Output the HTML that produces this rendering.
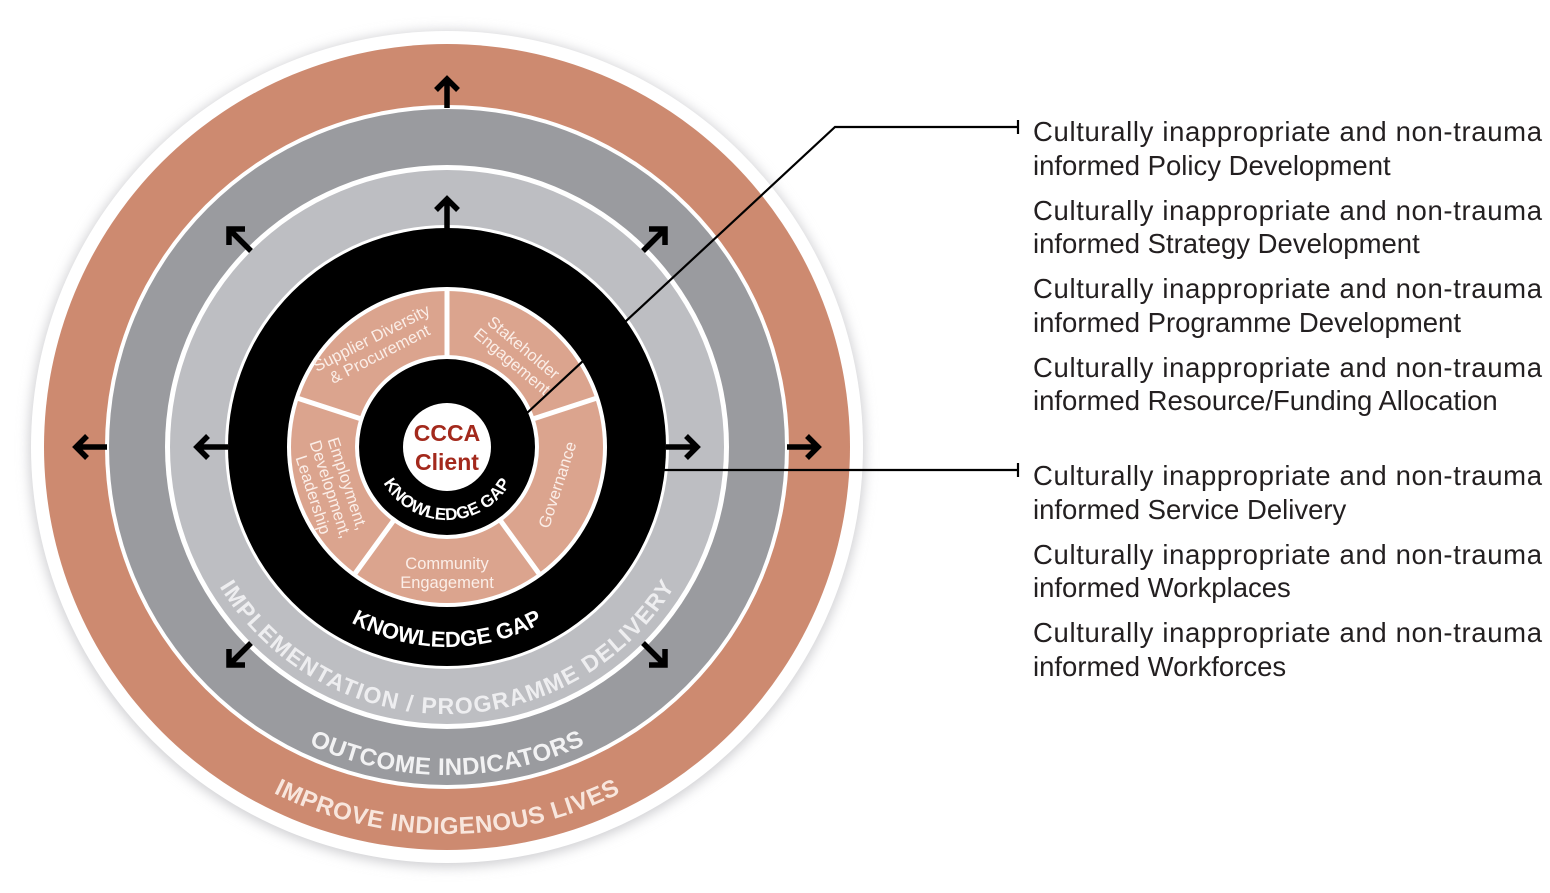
<!DOCTYPE html>
<html><head><meta charset="utf-8"><style>
html,body{margin:0;padding:0;background:#fff;width:1550px;height:893px;overflow:hidden}
svg{display:block}
.r{font-family:"Liberation Sans",sans-serif;font-size:27.5px;fill:#231f20}
.seg{font-family:"Liberation Sans",sans-serif;font-size:16.5px;fill:#fbeee8}
.ring{font-family:"Liberation Sans",sans-serif;font-weight:bold}
</style></head><body>
<svg width="1550" height="893" viewBox="0 0 1550 893" xmlns="http://www.w3.org/2000/svg">
<defs>
<filter id="sh" x="-10%" y="-10%" width="120%" height="120%"><feGaussianBlur stdDeviation="6"/></filter>
<path id="pKG" d="M247,447 A200,200 0 0 0 647,447"/>
<path id="pKG2" d="M374,447 A73,73 0 0 0 520,447"/>
<path id="pIMP" d="M180,447 A267,267 0 0 0 714,447"/>
<path id="pOUT" d="M119,447 A328,328 0 0 0 775,447"/>
<path id="pIMPR" d="M60,447 A387,387 0 0 0 834,447"/>
</defs>
<circle cx="447" cy="449" r="418" fill="#cfcfd2" filter="url(#sh)"/>
<circle cx="447" cy="447" r="416" fill="#fff"/>
<circle cx="447" cy="447" r="403" fill="#cd8a70"/>
<circle cx="447" cy="447" r="342" fill="#fff"/>
<circle cx="447" cy="447" r="338" fill="#9a9b9f"/>
<circle cx="447" cy="447" r="282" fill="#fff"/>
<circle cx="447" cy="447" r="277" fill="#bdbec2"/>
<circle cx="447" cy="447" r="222" fill="#fff"/>
<circle cx="447" cy="447" r="219" fill="#000"/>
<circle cx="447" cy="447" r="160" fill="#fff"/>
<circle cx="447" cy="447" r="156" fill="#dba48e"/>
<g stroke="#fff" stroke-width="5">
<line x1="447" y1="447" x2="447" y2="289"/>
<line x1="447" y1="447" x2="597" y2="398"/>
<line x1="447" y1="447" x2="540" y2="575"/>
<line x1="447" y1="447" x2="354" y2="575"/>
<line x1="447" y1="447" x2="297" y2="398"/>
</g>
<circle cx="447" cy="447" r="92" fill="#fff"/>
<circle cx="447" cy="447" r="88" fill="#000"/>
<circle cx="447" cy="447" r="44" fill="#fff"/>
<text x="447" y="441" text-anchor="middle" font-family="Liberation Sans,sans-serif" font-weight="bold" font-size="23" fill="#a3291c">CCCA</text>
<text x="447" y="470" text-anchor="middle" font-family="Liberation Sans,sans-serif" font-weight="bold" font-size="23" fill="#a3291c">Client</text>
<g class="seg" text-anchor="middle">
<text transform="translate(374,343) rotate(-27)"><tspan x="0" y="0">Supplier Diversity</tspan><tspan x="0" y="18">&amp; Procurement</tspan></text>
<text transform="translate(520,352) rotate(40)"><tspan x="0" y="0">Stakeholder</tspan><tspan x="0" y="18">Engagement</tspan></text>
<text transform="translate(558,485) rotate(-72)"><tspan x="0" y="5">Governance</tspan></text>
<text><tspan x="447" y="569">Community</tspan><tspan x="447" y="588">Engagement</tspan></text>
<text transform="translate(328,490) rotate(72)"><tspan x="0" y="-15">Employment,</tspan><tspan x="0" y="3">Development,</tspan><tspan x="0" y="21">Leadership</tspan></text>
</g>
<text class="ring" font-size="22" fill="#fff"><textPath href="#pKG" startOffset="50%" text-anchor="middle" textLength="200" lengthAdjust="spacing">KNOWLEDGE GAP</textPath></text>
<text class="ring" font-size="17" fill="#fff"><textPath href="#pKG2" startOffset="50%" text-anchor="middle">KNOWLEDGE GAP</textPath></text>
<text class="ring" font-size="23" fill="#eeeef0"><textPath href="#pIMP" startOffset="50%" text-anchor="middle" textLength="545" lengthAdjust="spacing">IMPLEMENTATION / PROGRAMME DELIVERY</textPath></text>
<text class="ring" font-size="24" fill="#f2f2f3"><textPath href="#pOUT" startOffset="50%" text-anchor="middle" textLength="285" lengthAdjust="spacing">OUTCOME INDICATORS</textPath></text>
<text class="ring" font-size="24" fill="#f8e6dd"><textPath href="#pIMPR" startOffset="50%" text-anchor="middle" textLength="360" lengthAdjust="spacing">IMPROVE INDIGENOUS LIVES</textPath></text>
<g stroke="#000" stroke-width="5.5" fill="none" stroke-linecap="butt">
<path d="M447,108 V79 M436,90 L447,79 L458,90"/>
<path d="M107,447 H76 M87,436 L76,447 L87,458"/>
<path d="M787,447 H818 M807,436 L818,447 L807,458"/>
<path d="M447,229 V199 M436,210 L447,199 L458,210"/>
<path d="M228,447 H197 M208,436 L197,447 L208,458"/>
<path d="M666,447 H697 M686,436 L697,447 L686,458"/>
<path d="M251,251 L229,229 M229,245 V229 H245"/>
<path d="M643,251 L665,229 M649,229 H665 V245"/>
<path d="M251,643 L229,665 M229,649 V665 H245"/>
<path d="M643,643 L665,665 M665,649 V665 H649"/>
</g>
<g stroke="#000" stroke-width="2.2" fill="none">
<path d="M527,413 L835,127 H1018"/>
<path d="M1018,120 V134"/>
<path d="M663,470 H1018"/>
<path d="M1018,463 V477"/>
</g>
<g class="r">
<text x="1033" y="141" textLength="509">Culturally inappropriate and non-trauma</text>
<text x="1033" y="175">informed Policy Development</text>
<text x="1033" y="220" textLength="509">Culturally inappropriate and non-trauma</text>
<text x="1033" y="253">informed Strategy Development</text>
<text x="1033" y="298" textLength="509">Culturally inappropriate and non-trauma</text>
<text x="1033" y="332">informed Programme Development</text>
<text x="1033" y="377" textLength="509">Culturally inappropriate and non-trauma</text>
<text x="1033" y="410">informed Resource/Funding Allocation</text>
<text x="1033" y="485" textLength="509">Culturally inappropriate and non-trauma</text>
<text x="1033" y="519">informed Service Delivery</text>
<text x="1033" y="564" textLength="509">Culturally inappropriate and non-trauma</text>
<text x="1033" y="597">informed Workplaces</text>
<text x="1033" y="642" textLength="509">Culturally inappropriate and non-trauma</text>
<text x="1033" y="676">informed Workforces</text>
</g>
</svg>
</body></html>
